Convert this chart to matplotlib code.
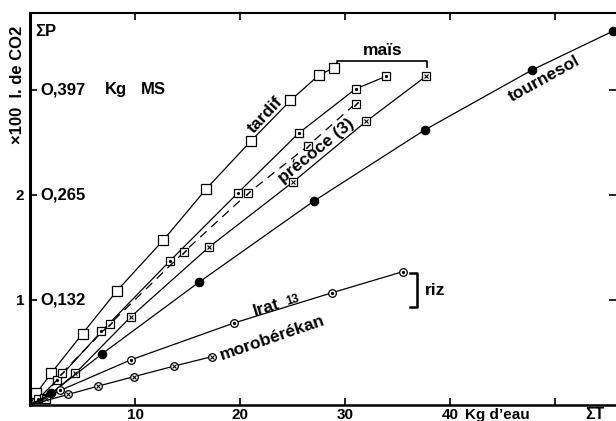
import matplotlib
matplotlib.use("Agg")
import matplotlib.pyplot as plt
from matplotlib.transforms import blended_transform_factory

plt.rcParams['font.family'] = ['Liberation Sans', 'DejaVu Sans']
plt.rcParams['font.weight'] = 'bold'

# eau consommée (kg) / CO2 fixé (x100 l)
# maïs tardif
tardif_x = [0, 0.6, 2.0, 5.0, 8.3, 12.7, 16.8, 21.0, 24.8, 27.5, 28.9]
tardif_y = [0, 0.11, 0.30, 0.68, 1.09, 1.57, 2.06, 2.51, 2.90, 3.14, 3.21]
# maïs précoce (3 séries)
prec1_x = [0, 0.8, 2.6, 6.8, 13.3, 19.8, 25.6, 31.0, 33.9]
prec1_y = [0, 0.06, 0.24, 0.70, 1.37, 2.02, 2.59, 3.01, 3.13]
prec2_x = [0, 1.3, 3.0, 7.6, 14.7, 20.8, 26.5, 31.0]
prec2_y = [0, 0.07, 0.30, 0.77, 1.46, 2.02, 2.47, 2.87]
prec3_x = [0, 1.5, 4.3, 9.6, 17.0, 25.0, 32.0, 37.7]
prec3_y = [0, 0.06, 0.30, 0.84, 1.50, 2.12, 2.70, 3.13]
# tournesol
tourn_x = [0, 2.0, 6.9, 16.1, 27.0, 37.6, 47.8, 55.5]
tourn_y = [0, 0.11, 0.49, 1.17, 1.94, 2.62, 3.19, 3.56]
# riz
irat_x = [0, 2.9, 9.6, 19.4, 28.8, 35.5]
irat_y = [0, 0.14, 0.43, 0.78, 1.07, 1.27]
moro_x = [0, 3.6, 6.5, 9.9, 13.7, 17.3]
moro_y = [0, 0.10, 0.18, 0.27, 0.37, 0.46]

x_ticks = [10, 20, 30, 40, 50]
x_labels = ['10', '20', '30', '40', '']
y_ticks = [1, 2, 3]
y_labels = ['1', '2', '']
ms_ticks = ['O,132', 'O,265', 'O,397']

fig = plt.figure(figsize=(6.16, 4.21), dpi=100)
ax = fig.add_axes([30 / 616, 16 / 421, 586 / 616, 392 / 421])
ax.set_xlim(0, 55.8)
ax.set_ylim(0, 3.733)


def serie(x, y, marker, inner=None, ms=6, inner_ms=3, ls='-', fc='white'):
    ax.plot(x, y, color='black', lw=0.9, ls=ls, marker=marker, ms=ms,
            mfc=fc, mec='black', mew=0.9, markevery=slice(1, None), zorder=3)
    if inner is not None:
        ax.plot(x[1:], y[1:], ls='none', marker=inner, ms=inner_ms,
                color='black', mew=0.8, zorder=4)


serie(tardif_x, tardif_y, 's', ms=6.5)
serie(prec1_x, prec1_y, 's', inner='.', ms=5.5, inner_ms=3)
serie(prec2_x, prec2_y, 's', inner=(2, 2, -45), ms=5.5, inner_ms=4,
      ls=(0, (7, 5)))
serie(prec3_x, prec3_y, 's', inner='x', ms=5.5, inner_ms=3)
serie(tourn_x, tourn_y, 'o', ms=6, fc='black')
serie(irat_x, irat_y, 'o', inner='.', ms=5.5, inner_ms=3)
serie(moro_x, moro_y, 'o', inner='x', ms=5.5, inner_ms=3)

# axes
ax.spines['right'].set_visible(False)
ax.spines['left'].set_linewidth(2.2)
ax.spines['bottom'].set_linewidth(1.8)
ax.spines['top'].set_linewidth(1.5)
ax.set_xticks(x_ticks, x_labels)
ax.set_yticks(y_ticks, y_labels)
ax.tick_params(axis='x', direction='in', length=5, width=1.2, top=True,
               labelsize=11, pad=2)
ax.tick_params(axis='y', direction='in', length=5, width=1.2, right=True,
               labelsize=11, pad=4)

trans = blended_transform_factory(ax.transAxes, ax.transData)
for v, s in zip(y_ticks, ms_ticks):
    ax.text(0.017, v, s, transform=trans, ha='left', va='center', fontsize=12)
ax.text(0.128, 3, 'Kg', transform=trans, ha='left', va='center', fontsize=12)
ax.text(0.189, 3, 'MS', transform=trans, ha='left', va='center', fontsize=12)
ax.text(0.009, 0.952, 'ΣP', transform=ax.transAxes, ha='left', va='center',
        fontsize=12)
fig.text(18 / 616, 1 - 85 / 421, '×100  l. de CO2', rotation=90,
         ha='center', va='center', fontsize=12)

ax.annotate('Kg d’eau', xy=(41.4, 0), xycoords=('data', 'axes fraction'),
            xytext=(0, -2), textcoords='offset points', ha='left', va='top',
            fontsize=11)
ax.annotate('ΣT', xy=(53.8, 0), xycoords=('data', 'axes fraction'),
            xytext=(0, -1.5), textcoords='offset points', ha='center',
            va='top', fontsize=11.5)

# libellés des courbes
lab = dict(ha='center', va='center', rotation_mode='anchor', fontsize=12.5)
ax.text(22.4, 2.76, 'tardif', rotation=47, **lab)
ax.text(27.3, 2.42, 'précoce (3)', rotation=39, **lab)
ax.text(49.0, 3.11, 'tournesol', rotation=29, **lab)
ax.text(22.5, 0.93, 'Irat', rotation=17, **lab)
ax.text(25.0, 1.00, '13', rotation=17, ha='center', va='center',
        rotation_mode='anchor', fontsize=8.5)
ax.text(23.1, 0.64, 'morobérékan', rotation=19, **lab)

ax.plot([29.2, 29.2, 37.8, 37.8], [3.22, 3.28, 3.28, 3.22], color='black',
        lw=1.2)
ax.text(33.6, 3.30, 'maïs', ha='center', va='bottom', fontsize=12.5)
ax.plot([36.2, 36.86, 36.86, 36.2], [1.257, 1.257, 0.933, 0.933],
        color='black', lw=1.8)
ax.text(37.6, 1.09, 'riz', ha='left', va='center', fontsize=12.5)

fig.savefig('out.png', dpi=100)
